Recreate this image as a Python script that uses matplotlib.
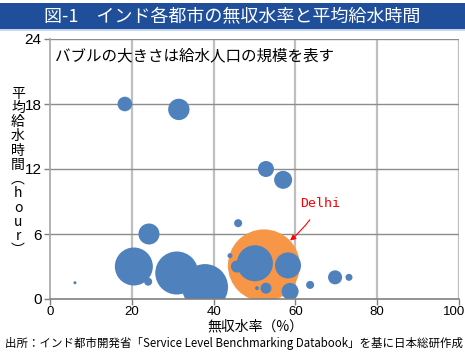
import numpy as np
import matplotlib.pyplot as plt
from matplotlib.patches import Rectangle
from matplotlib.transforms import ScaledTranslation

plt.rcParams['font.family'] = ['Noto Sans CJK JP', 'DejaVu Sans']

# non-revenue water (%), average supply hours, served population (million)
nrw = [18.3, 31.5, 52.8, 57.0, 46.0, 24.2, 20.5, 24.0, 31.0, 37.9, 6.1,
       50.1, 45.7, 58.2, 58.7, 52.8, 50.6, 44.0, 63.6, 69.7, 73.1]
hours = [18.0, 17.5, 12.0, 11.0, 7.0, 6.0, 3.0, 1.6, 2.4, 1.1, 1.5,
         3.3, 3.0, 3.1, 0.7, 1.0, 1.0, 4.0, 1.3, 2.0, 2.0]
pop = [0.69, 1.48, 0.83, 1.05, 0.21, 1.43, 4.68, 0.21, 6.0, 6.86, 0.03,
       4.2, 0.47, 2.19, 0.94, 0.39, 0.05, 0.08, 0.21, 0.64, 0.16]

delhi_nrw = 52.3
delhi_hours = 3.1
delhi_pop = 16.8

size_scale = 160  # points^2 per million

fig = plt.figure(figsize=(4.65, 3.54), dpi=100)

# title banner
fig.patches.append(Rectangle((0, 1 - 29 / 354), 1, 26 / 354, transform=fig.transFigure,
                             facecolor='#1F4E9A', edgecolor='none'))
fig.patches.append(Rectangle((0, 1 - 31 / 354), 1, 2 / 354, transform=fig.transFigure,
                             facecolor='#C9D7EC', edgecolor='none'))
fig.text(0.5, 1 - 16 / 354, '図-1　インド各都市の無収水率と平均給水時間', color='white',
         fontsize=13, ha='center', va='center')

ax = fig.add_axes([50 / 465, 55 / 354, 409 / 465, 260 / 354])

ax.scatter([delhi_nrw], [delhi_hours], s=[delhi_pop * size_scale], color='#F79646',
           edgecolors='none', zorder=2)
ax.scatter(nrw, hours, s=np.array(pop) * size_scale, color='#4F81BD',
           edgecolors='none', zorder=3)

ax.set_xlim(0, 100)
ax.set_ylim(0, 24)
ax.set_xticks([0, 20, 40, 60, 80, 100])
ax.set_yticks([0, 6, 12, 18, 24])

for x in [20, 40, 60, 80, 100]:
    ax.axvline(x, color='#BFBFBF', lw=1.6, zorder=1)
for y in [6, 12, 18, 24]:
    ax.axhline(y, color='#8C8C8C', lw=1.0, zorder=1)

for s in ['top', 'right']:
    ax.spines[s].set_visible(False)
ax.spines['left'].set_color('#A6A6A6')
ax.spines['bottom'].set_color('#808080')
ax.spines['left'].set_linewidth(1.2)
ax.spines['bottom'].set_linewidth(1.2)
ax.spines['bottom'].set_zorder(4)
ax.tick_params(axis='both', colors='#808080', length=4, width=1)
ax.tick_params(axis='y', labelcolor='black', labelsize=11, pad=2)
ax.tick_params(axis='x', labelcolor='black', labelsize=9.5, pad=1)
for lbl in ax.get_xticklabels() + ax.get_yticklabels():
    lbl.set_family(['Liberation Sans', 'DejaVu Sans'])
last = ax.get_xticklabels()[-1]
last.set_transform(last.get_transform() + ScaledTranslation(-5 / 100, 0, fig.dpi_scale_trans))

ax.text(0.013, 0.935, 'バブルの大きさは給水人口の規模を表す', transform=ax.transAxes,
        fontsize=11.2, ha='left', va='center')

ax.annotate('Delhi', xy=(58.7, 5.4), xytext=(66, 8.8), color='red', fontsize=9.5,
            family=['DejaVu Sans Mono'], ha='center', va='center',
            arrowprops=dict(arrowstyle='-|>', color='red', lw=0.8,
                            shrinkA=6, shrinkB=0, mutation_scale=8,
                            connectionstyle='arc3,rad=-0.1'))

fig.text(18 / 465, 1 - 172 / 354, '平\n均\n給\n水\n時\n間\n︵\nh\no\nu\nr\n︶',
         fontsize=10, ha='center', va='center', linespacing=1.02)

fig.text(255 / 465, 1 - 326 / 354, '無収水率（%）', fontsize=10, ha='center', va='center')
fig.text(5 / 465, 1 - 343 / 354,
         '出所：インド都市開発省「Service Level Benchmarking Databook」を基に日本総研作成',
         fontsize=8.25, ha='left', va='center')

fig.savefig('out.png', dpi=100)
